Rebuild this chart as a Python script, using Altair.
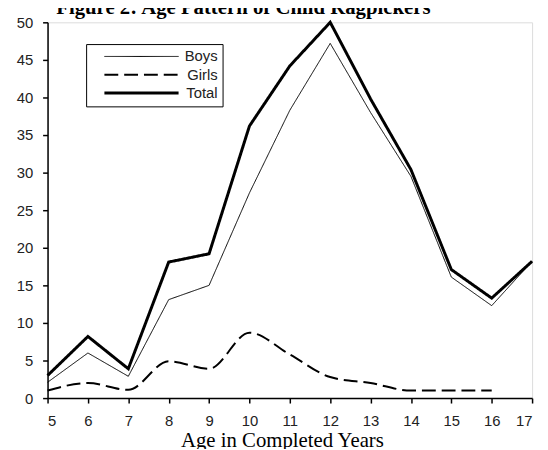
import altair as alt
import pandas as pd

ages = list(range(5, 18))
boys = [2.1, 6.0, 2.9, 13.1, 15.0, 27.3, 38.3, 47.2, 38.0, 29.5, 16.1, 12.3, 18.2]
girls = [1.0, 2.0, 1.1, 4.9, 3.9, 8.7, 5.8, 2.8, 2.0, 1.0, 1.0, 1.0]
total = [3.0, 8.2, 3.9, 18.1, 19.2, 36.2, 44.2, 50.0, 39.8, 30.4, 17.1, 13.3, 18.2]
series_names = ["Boys", "Girls", "Total"]
dash_styles = [[1, 0], [14, 6], [1, 0]]
line_widths = [1, 3, 2]
y_ticks = list(range(0, 55, 5))

rows = []
for a, v in zip(ages, boys):
    rows.append({"age": a, "value": v, "series": "Boys"})
for a, v in zip(ages, girls):
    rows.append({"age": a, "value": v, "series": "Girls"})
for a, v in zip(ages, total):
    rows.append({"age": a, "value": v, "series": "Total"})
df = pd.DataFrame(rows)

legend = alt.Legend(
    title=None,
    orient="none",
    legendX=39,
    legendY=22,
    fillColor="white",
    strokeColor="black",
    padding=5,
    labelFont="Liberation Sans",
    labelFontSize=15,
    labelColor="#222",
    labelAlign="right",
    symbolType="M1,0H13.5",
    symbolSize=144,
    symbolStrokeColor="black",
    labelOffset=113,
    rowPadding=2.5,
)

x_enc = alt.X(
    "age:Q",
    scale=alt.Scale(domain=[5, 17], nice=False, zero=False),
    axis=alt.Axis(
        values=ages,
        title="Age in Completed Years",
        titleFont="Liberation Serif",
        titleFontSize=21,
        titleFontWeight="normal",
        titleColor="black",
        titleX=237,
        titleY=49,
        titleBaseline="alphabetic",
        titleAlign="center",
        labelFont="Liberation Sans",
        labelFontSize=15,
        labelColor="#222",
        labelPadding=11,
        tickSize=5,
        tickColor="black",
        tickWidth=1.5,
        domainColor="black",
        domainWidth=1.5,
        grid=False,
    ),
)
y_enc = alt.Y(
    "value:Q",
    scale=alt.Scale(domain=[0, 50], nice=False),
    axis=alt.Axis(
        values=y_ticks,
        title=None,
        labelFont="Liberation Sans",
        labelFontSize=15,
        labelColor="#222",
        labelPadding=10,
        tickSize=5,
        tickColor="black",
        tickWidth=1.5,
        domainColor="black",
        domainWidth=1.5,
        grid=False,
    ),
)
dash_enc = alt.StrokeDash(
    "series:N",
    scale=alt.Scale(domain=series_names, range=dash_styles),
    legend=legend,
)
width_enc = alt.StrokeWidth(
    "series:O",
    scale=alt.Scale(domain=series_names, range=line_widths),
    legend=legend,
)

base = alt.Chart(df)
straight = base.mark_line(color="black", interpolate="linear").encode(
    x=x_enc, y=y_enc, strokeDash=dash_enc, strokeWidth=width_enc
).transform_filter(alt.datum.series != "Girls")
smooth = base.mark_line(color="black", interpolate="monotone").encode(
    x=x_enc, y=y_enc, strokeDash=dash_enc, strokeWidth=width_enc
).transform_filter(alt.datum.series == "Girls")

chart = alt.layer(straight, smooth).properties(
    width=490,
    height=380,
    autosize=alt.AutoSizeParams(type="none"),
    padding={"left": 40, "top": 12, "right": 8, "bottom": 49},
    title=alt.TitleParams(
        "Figure 2: Age Pattern of Child Ragpickers",
        font="Liberation Serif",
        fontSize=21,
        fontWeight="bold",
        color="black",
        anchor="middle",
        dx=-47,
        dy=20,
        offset=0,
        baseline="alphabetic",
    ),
).configure_view(stroke=None).configure(background="white")

chart.save("out.html", embed_options={"renderer": "svg", "actions": False})
